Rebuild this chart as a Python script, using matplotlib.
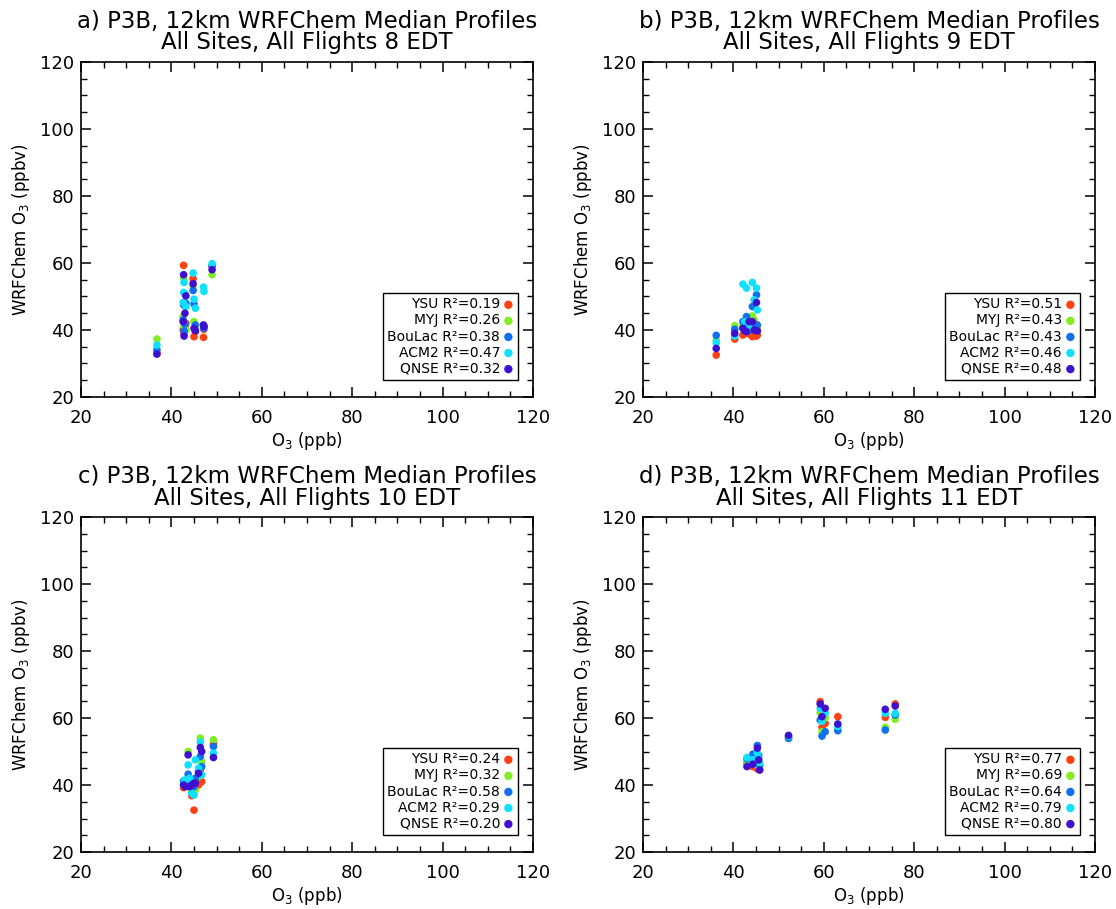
import matplotlib
matplotlib.use('Agg')
import matplotlib.pyplot as plt
from matplotlib.ticker import MultipleLocator

#--------------- data ------------------------------------------#
schemes = ['YSU', 'MYJ', 'BouLac', 'ACM2', 'QNSE']
colors = ['#ff4010', '#80ee20', '#1070f0', '#10e0ff', '#4010d0']
hours = [8, 9, 10, 11]
letters = ['a', 'b', 'c', 'd']

# panel a, 8 EDT
obs_a    = [36.8, 42.6, 42.7, 42.8, 43.0, 43.2, 44.8, 45.0, 45.3, 47.1, 47.2, 49.0]
ysu_a    = [33.0, 40.0, 59.3, 39.0, 41.0, 42.0, 55.3, 38.0, 39.5, 37.8, 40.2, 59.0]
myj_a    = [37.3, 44.0, 55.5, 41.0, 47.0, 40.0, 53.0, 42.5, 41.0, 41.5, 41.0, 56.5]
boulac_a = [34.0, 43.0, 47.5, 39.7, 41.8, 48.0, 51.8, 47.8, 41.5, 40.5, 41.0, 59.2]
acm2_a   = [35.5, 48.2, 51.2, 54.2, 50.8, 47.0, 57.0, 49.2, 46.5, 52.8, 51.5, 59.8]
qnse_a   = [32.8, 42.5, 56.5, 38.2, 45.0, 50.2, 53.8, 40.5, 39.8, 41.5, 41.0, 58.0]
r2_a     = [0.19, 0.26, 0.38, 0.47, 0.32]

# panel b, 9 EDT
obs_b    = [36.2, 40.3, 42.1, 42.5, 42.9, 43.5, 44.2, 44.6, 45.1, 45.3]
ysu_b    = [32.5, 37.3, 38.5, 39.0, 39.2, 38.8, 38.0, 39.0, 38.2, 38.5]
myj_b    = [37.0, 41.3, 41.0, 40.0, 41.5, 42.0, 44.2, 43.0, 41.0, 40.5]
boulac_b = [38.4, 40.2, 42.5, 40.8, 44.0, 40.0, 47.0, 41.0, 50.5, 41.5]
acm2_b   = [36.2, 38.2, 53.7, 42.5, 52.5, 40.5, 54.2, 49.0, 52.5, 46.0]
qnse_b   = [34.5, 39.0, 40.5, 39.8, 39.5, 42.5, 42.5, 40.0, 48.2, 39.7]
r2_b     = [0.51, 0.43, 0.43, 0.46, 0.48]

# panel c, 10 EDT
obs_c    = [42.7, 43.0, 43.7, 44.0, 44.5, 45.0, 45.3, 46.0, 46.4, 46.7, 49.3]
ysu_c    = [39.2, 40.0, 40.5, 39.5, 36.8, 32.5, 41.0, 40.0, 44.5, 41.0, 52.2]
myj_c    = [40.0, 41.0, 50.0, 40.5, 38.0, 38.0, 38.5, 42.5, 54.0, 47.0, 53.5]
boulac_c = [41.2, 40.5, 43.2, 42.0, 40.0, 39.5, 42.0, 44.0, 48.5, 45.5, 51.5]
acm2_c   = [40.2, 41.5, 46.0, 42.0, 37.5, 37.0, 47.5, 45.0, 52.8, 43.0, 49.5]
qnse_c   = [40.0, 39.5, 49.0, 39.5, 40.0, 40.5, 40.5, 43.5, 51.2, 50.0, 48.2]
r2_c     = [0.24, 0.32, 0.58, 0.29, 0.20]

# panel d, 11 EDT
obs_d    = [43.0, 44.3, 45.3, 45.6, 45.8, 52.2, 59.2, 59.6, 60.3, 63.1, 73.6, 75.8]
ysu_d    = [46.5, 45.5, 44.8, 45.5, 44.5, 54.2, 64.9, 57.2, 58.4, 60.4, 60.2, 64.2]
myj_d    = [47.0, 47.0, 45.8, 46.5, 45.2, 54.0, 61.6, 55.9, 60.0, 56.6, 57.2, 59.6]
boulac_d = [47.8, 49.2, 51.8, 48.8, 46.0, 53.9, 59.4, 54.6, 55.9, 56.2, 56.4, 60.9]
acm2_d   = [48.2, 47.5, 49.5, 48.0, 46.5, 54.5, 62.9, 59.0, 61.5, 57.5, 61.4, 61.4]
qnse_d   = [45.5, 46.2, 51.0, 47.5, 44.5, 54.8, 64.2, 60.4, 62.9, 58.2, 62.6, 63.6]
r2_d     = [0.77, 0.69, 0.64, 0.79, 0.80]

panels = [
    (obs_a, [ysu_a, myj_a, boulac_a, acm2_a, qnse_a], r2_a),
    (obs_b, [ysu_b, myj_b, boulac_b, acm2_b, qnse_b], r2_b),
    (obs_c, [ysu_c, myj_c, boulac_c, acm2_c, qnse_c], r2_c),
    (obs_d, [ysu_d, myj_d, boulac_d, acm2_d, qnse_d], r2_d),
]

#--------------- plotting -----------------#
fig = plt.figure(figsize=(11.16, 9.09), dpi=100)
W, H = 1116., 909.
boxes = [(81, 62), (643, 62), (81, 517), (643, 517)]  # left, top in pixels
aw, ah = 452., 335.

for i, (obs, mods, r2) in enumerate(panels):
    left, top = boxes[i]
    ax = fig.add_axes([left / W, 1 - (top + ah) / H, aw / W, ah / H])
    handles = []
    for name, col, y, r in zip(schemes, colors, mods, r2):
        h = ax.scatter(obs, y, s=30, color=col, edgecolors='none', zorder=3,
                       label='%s R²=%.2f' % (name, r))
        handles.append(h)
    ax.set_xlim(20, 120)
    ax.set_ylim(20, 120)
    ax.xaxis.set_major_locator(MultipleLocator(20))
    ax.yaxis.set_major_locator(MultipleLocator(20))
    ax.xaxis.set_minor_locator(MultipleLocator(5))
    ax.yaxis.set_minor_locator(MultipleLocator(5))
    ax.tick_params(which='both', direction='in', top=True, right=True, labelsize=13)
    ax.tick_params(which='major', length=7, width=1.1)
    ax.tick_params(which='minor', length=4, width=1.0)
    ax.tick_params(axis='x', pad=9)
    ax.tick_params(axis='y', pad=5)
    for sp in ax.spines.values():
        sp.set_linewidth(1.2)
    ax.set_xlabel('O$_3$ (ppb)', fontsize=12, labelpad=2)
    ax.set_ylabel('WRFChem O$_3$ (ppbv)', fontsize=12, labelpad=6)
    ax.set_title('%s) P3B, 12km WRFChem Median Profiles\nAll Sites, All Flights %d EDT'
                 % (letters[i], hours[i]), fontsize=16.5, linespacing=0.92, pad=9)

    leg = ax.legend(handles=handles, loc='lower right', bbox_to_anchor=(0.967, 0.051),
                    borderaxespad=0, markerfirst=False, fancybox=False, framealpha=1,
                    edgecolor='black', fontsize=10, labelspacing=0.15, handletextpad=0.2,
                    handlelength=0.8, borderpad=0.3, scatterpoints=1, markerscale=1.1)
    leg.get_frame().set_linewidth(1.0)
    # right-align rows so the names line up like the original
    for col in leg._legend_handle_box.get_children():
        col.align = 'right'

plt.savefig('out.png', dpi=100)
